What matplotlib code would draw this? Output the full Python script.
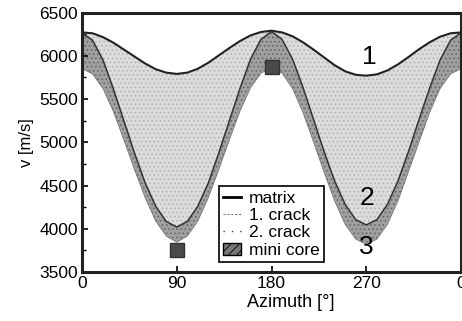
import matplotlib
matplotlib.use('Agg')
import matplotlib.pyplot as plt
from matplotlib.lines import Line2D
from matplotlib.patches import Patch

plt.rcParams['font.family'] = ['Liberation Sans', 'DejaVu Sans']
plt.rcParams['hatch.linewidth'] = 0.6

# velocity vs azimuth, every 10 deg
azimuth = list(range(0, 361, 10))
matrix = [6270, 6260, 6215, 6150, 6070, 5990, 5910, 5845, 5805, 5790,
          5805, 5850, 5920, 6005, 6090, 6170, 6235, 6275, 6290,
          6270, 6225, 6155, 6070, 5980, 5890, 5820, 5780, 5770,
          5785, 5830, 5900, 5985, 6075, 6155, 6220, 6260, 6270]
crack1 = [6265, 6180, 5950, 5610, 5240, 4870, 4530, 4260, 4085, 4020,
          4085, 4260, 4530, 4880, 5250, 5620, 5960, 6190, 6280,
          6190, 5960, 5630, 5260, 4890, 4550, 4280, 4105, 4045,
          4105, 4280, 4550, 4890, 5260, 5620, 5950, 6180, 6265]
crack2 = [5850, 5790, 5620, 5350, 5020, 4680, 4360, 4090, 3915, 3845,
          3915, 4090, 4360, 4690, 5030, 5360, 5630, 5800, 5860,
          5800, 5620, 5340, 5000, 4650, 4320, 4050, 3880, 3820,
          3880, 4050, 4320, 4660, 5000, 5340, 5620, 5790, 5850]

core_az = [90, 180]
core_v = [3755, 5870]

xticks = [0, 90, 180, 270, 360]
xticklabels = ['0', '90', '180', '270', '0']

fig = plt.figure(figsize=(4.62, 3.21), dpi=100)
ax = fig.add_axes([0.1775, 0.1526, 0.8205, 0.8084])

ax.fill_between(azimuth, crack1, matrix, facecolor='#dcdcdc',
                edgecolor='#b0b0b0', hatch='....', linewidth=0)
ax.fill_between(azimuth, crack2, crack1, facecolor='#a0a0a0',
                edgecolor='#606060', hatch='....', linewidth=0)
ax.plot(azimuth, matrix, color='#222222', lw=1.5)
ax.plot(azimuth, crack1, color='#333333', lw=1.1)
ax.plot(azimuth, crack2, color='#777777', lw=0.6)
ax.plot(core_az, core_v, ls='none', marker='s', markersize=10.5,
        markerfacecolor='#4a4a4a', markeredgecolor='#333333', zorder=5)

ax.text(273, 5990, '1', fontsize=19, ha='center', va='center')
ax.text(271, 4360, '2', fontsize=19, ha='center', va='center')
ax.text(270, 3790, '3', fontsize=19, ha='center', va='center')

ax.set_xlim(0, 360)
ax.set_ylim(3500, 6500)
ax.set_xticks(xticks)
ax.set_xticklabels(xticklabels)
ax.set_yticks(range(3500, 6501, 500))
ax.set_yticks(range(3500, 6501, 250), minor=True)
ax.tick_params(direction='in', labelsize=12.5, width=1.2, length=4, pad=3)
ax.tick_params(which='minor', direction='in', width=1, length=3)
for s in ax.spines.values():
    s.set_linewidth(2.2)
    s.set_color('#222222')

ax.set_xlabel('Azimuth [°]', fontsize=13, labelpad=2)
ax.xaxis.set_label_coords(0.55, -0.085)
ax.set_ylabel('v [m/s]', fontsize=12, labelpad=4)

handles = [Line2D([], [], color='black', lw=2),
           Line2D([], [], color='#777777', lw=0.8, ls=(0, (2, 1.5))),
           Line2D([], [], color='#444444', lw=1, ls=(0, (1, 5))),
           Patch(facecolor='#777777', edgecolor='black', hatch='////')]
leg = ax.legend(handles, ['matrix', '1. crack', '2. crack', 'mini core'],
                loc='lower left', bbox_to_anchor=(0.361, 0.0385),
                borderaxespad=0, fontsize=12.5, handlelength=1.0,
                handletextpad=0.5, labelspacing=0.12, borderpad=0.25,
                fancybox=False, framealpha=1)
leg.get_frame().set_edgecolor('black')
leg.get_frame().set_linewidth(1.2)

fig.savefig('out.png', dpi=100)
